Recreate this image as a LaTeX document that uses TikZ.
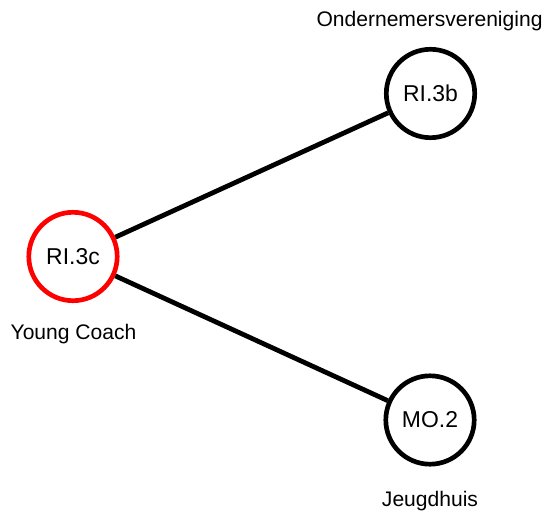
\documentclass[tikz,border=0pt]{standalone}
\usepackage{fontspec}
\setmainfont{Liberation Sans}
\begin{document}
\begin{tikzpicture}[x=0.75pt,y=-0.75pt,
  actor/.style={circle,draw=black,line width=3.5pt,fill=white,minimum size=66.3pt,inner sep=0pt,font=\fontsize{17.2}{20}\selectfont},
  focus/.style={actor,draw=red},
  tag/.style={anchor=base,inner sep=0pt,font=\fontsize{15.8}{19}\selectfont},
  link/.style={line width=3.6pt,draw=black}]
\useasboundingbox (0,0) rectangle (545,513);
\fill[white] (0,0) rectangle (545,513);
\node[focus] (c) at (73,256.5) {RI.3c};
\node[actor] (b) at (430.5,93.5) {RI.3b};
\node[actor] (m) at (430,420) {MO.2};
\draw[link] (c) -- (b);
\draw[link] (c) -- (m);
\node[tag] (lb) at (429.5,26.5) {Ondernemersvereniging};
\node[tag] (lc) at (73.5,339) {Young Coach};
\node[tag] (lm) at (430,506.5) {Jeugdhuis};
\end{tikzpicture}
\end{document}
